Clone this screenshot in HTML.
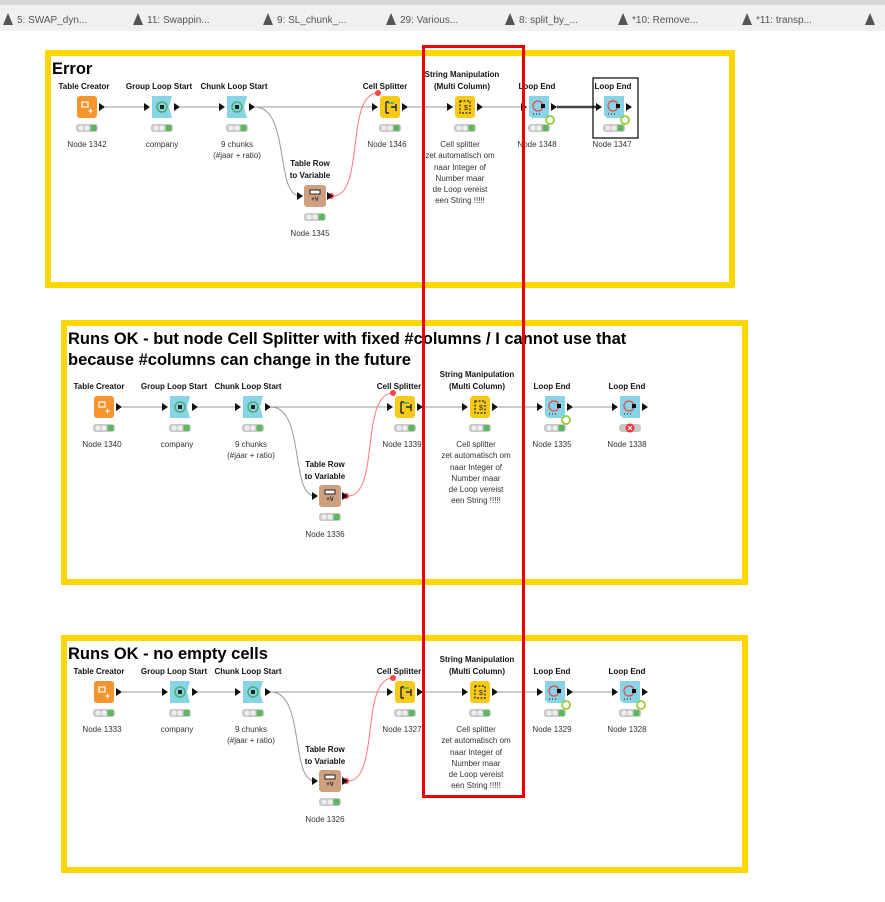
<!DOCTYPE html>
<html><head><meta charset="utf-8"><style>
html,body{margin:0;padding:0;background:#fff;width:885px;height:902px;overflow:hidden;font-family:"Liberation Sans",sans-serif}
.tabs{position:absolute;left:0;top:0;width:885px;height:31px;background:#f0f0f0;border-top:5px solid #d6d6d6;box-sizing:border-box}
.tab{position:absolute;top:8px;font-size:10px;color:#555}
.tab:before{content:"";display:inline-block;width:0;height:0;border-left:5px solid transparent;border-right:5px solid transparent;border-bottom:12px solid #555;margin-right:4px;vertical-align:-2px}
svg{position:absolute;left:0;top:0}
text{font-family:"Liberation Sans",sans-serif}
.n{font-size:8px;font-weight:bold;text-anchor:middle;fill:#111}
.l{font-size:8px;text-anchor:middle;fill:#333}
.t{font-size:16.5px;font-weight:bold;fill:#000}
</style></head><body>
<div class="tabs">
<span class="tab" style="left:3px">5: SWAP_dyn...</span>
<span class="tab" style="left:133px">11: Swappin...</span>
<span class="tab" style="left:263px">9: SL_chunk_...</span>
<span class="tab" style="left:386px">29: Various...</span>
<span class="tab" style="left:505px">8: split_by_...</span>
<span class="tab" style="left:618px">*10: Remove...</span>
<span class="tab" style="left:742px">*11: transp...</span>
<span class="tab" style="left:865px"></span>
</div>
<svg width="885" height="902" viewBox="0 0 885 902">
<defs>
<g id="ports"><polygon points="-18,-4 -12,0 -18,4" fill="#111"/><polygon points="12,-4 18,0 12,4" fill="#111"/></g>
<g id="outp"><polygon points="12,-4 18,0 12,4" fill="#111"/></g>
<g id="lights"><rect x="-11" y="17" width="22" height="8" rx="3" fill="#c8c8c8"/><circle cx="-6" cy="21" r="2.6" fill="#eee"/><circle cx="0" cy="21" r="2.6" fill="#eee"/><rect x="3.5" y="18" width="6" height="6" rx="1" fill="#5cb85c"/></g>
<g id="tc"><rect x="-10" y="-11" width="20" height="22" rx="3" fill="#f7942d"/><rect x="-5" y="-5" width="6" height="5" fill="none" stroke="#fff" stroke-width="1.2"/><text x="1" y="7" font-size="9" fill="#fff" font-weight="bold">+</text><use href="#outp"/><use href="#lights"/></g>
<g id="ls"><path d="M-10,-11 H10 L7,0 L10,11 H-10 Z" fill="#86d4e6"/><circle cx="0" cy="0" r="5" fill="none" stroke="#4cae6a" stroke-width="1.5"/><rect x="-2" y="-2" width="4" height="4" fill="#222"/><use href="#ports"/><use href="#lights"/></g>
<g id="cs"><rect x="-10" y="-11" width="20" height="22" rx="3" fill="#f7ca18"/><path d="M-4,-5 V6 M-4,-5 H-1 M-4,6 H-1 M1,0 H6 M6,-3 V4" stroke="#222" stroke-width="1.4" fill="none"/><path d="M-2,-4 H4" stroke="#3a8" stroke-width="1.5"/><use href="#ports"/><use href="#lights"/></g>
<g id="sm"><rect x="-10" y="-11" width="20" height="22" rx="3" fill="#f7ca18"/><rect x="-5" y="-6" width="10" height="12" fill="none" stroke="#222" stroke-width="1.2" stroke-dasharray="2,1.5"/><text x="-1" y="3" font-size="7" fill="#222">$</text><use href="#ports"/><use href="#lights"/></g>
<g id="le"><path d="M-10,-11 H10 V11 H-7 L-10,8 Z" fill="#86d4e6"/><circle cx="-1" cy="-1" r="5" fill="none" stroke="#e44" stroke-width="1.2"/><rect x="2" y="-3" width="4" height="4" fill="#111"/><path d="M-6,7 h1 M-3,7 h1 M0,7 h1" stroke="#111"/><circle cx="11" cy="13" r="4" fill="none" stroke="#9c3" stroke-width="1.8"/><use href="#ports"/><use href="#lights"/></g>
<g id="trv"><rect x="-11" y="-11" width="22" height="22" rx="3" fill="#cfa07f"/><rect x="-5" y="-6" width="10" height="4" fill="#fff" stroke="#222"/><text x="0" y="5" font-size="6" text-anchor="middle" fill="#222" font-weight="bold">+V</text><use href="#ports"/><use href="#lights"/></g>
</defs>

<rect x="48" y="53" width="684" height="232" fill="none" stroke="#ffd700" stroke-width="6"/>
<rect x="64" y="323" width="681" height="259" fill="none" stroke="#ffd700" stroke-width="6"/>
<rect x="64" y="638" width="681" height="232" fill="none" stroke="#ffd700" stroke-width="6"/>

<!-- Panel 1 -->
<text x="52" y="74" class="t" font-size="17">Error</text>
<g stroke="#999" stroke-width="1" fill="none">
<path d="M105,107 H145 M180,107 H220 M255,107 H372 M408,107 H447 M483,107 H522"/>
<path d="M255,107 C290,107 275,196 300,196"/>
</g>
<path d="M557,107 H597" stroke="#444" stroke-width="2.5"/>
<path d="M333,196 C365,196 345,93 378,93" stroke="#f77" stroke-width="1" fill="none"/>
<circle cx="378" cy="93" r="3" fill="#f44"/><circle cx="331" cy="196" r="3" fill="#f44"/>
<use href="#tc" x="87" y="107"/><use href="#ls" x="162" y="107"/><use href="#ls" x="237" y="107"/>
<use href="#cs" x="390" y="107"/><use href="#sm" x="465" y="107"/><use href="#le" x="539" y="107"/><use href="#le" x="614" y="107"/>
<use href="#trv" x="315" y="196"/>
<rect x="593" y="78" width="45" height="60" fill="none" stroke="#000" stroke-width="1.2"/>
<text class="n" x="84" y="89">Table Creator</text><text class="n" x="159" y="89">Group Loop Start</text><text class="n" x="234" y="89">Chunk Loop Start</text>
<text class="n" x="385" y="89">Cell Splitter</text><text class="n" x="462" y="77">String Manipulation</text><text class="n" x="462" y="89">(Multi Column)</text>
<text class="n" x="537" y="89">Loop End</text><text class="n" x="613" y="89">Loop End</text>
<text class="n" x="310" y="166">Table Row</text><text class="n" x="310" y="178">to Variable</text>
<text class="l" x="87" y="147">Node 1342</text><text class="l" x="162" y="147">company</text><text class="l" x="237" y="147">9 chunks</text><text class="l" x="237" y="158">(#jaar + ratio)</text>
<text class="l" x="387" y="147">Node 1346</text><text class="l" x="537" y="147">Node 1348</text><text class="l" x="612" y="147">Node 1347</text><text class="l" x="310" y="236">Node 1345</text>
<text class="l" x="460" y="147">Cell splitter</text><text class="l" x="460" y="158">zet automatisch om</text><text class="l" x="460" y="170">naar Integer of</text><text class="l" x="460" y="181">Number maar</text><text class="l" x="460" y="192">de Loop vereist</text><text class="l" x="460" y="203">een String !!!!!</text>

<!-- Panel 2 -->
<text x="68" y="344" class="t">Runs OK - but node Cell Splitter with fixed #columns / I cannot use that</text>
<text x="68" y="365" class="t">because #columns can change in the future</text>
<g stroke="#999" stroke-width="1" fill="none">
<path d="M122,407 H162 M198,407 H235 M271,407 H387 M423,407 H462 M498,407 H537 M573,407 H612"/>
<path d="M271,407 C305,407 290,496 315,496"/>
</g>
<path d="M348,496 C380,496 360,393 393,393" stroke="#f77" stroke-width="1" fill="none"/>
<circle cx="393" cy="393" r="3" fill="#f44"/><circle cx="346" cy="496" r="3" fill="#f44"/>
<use href="#tc" x="104" y="407"/><use href="#ls" x="180" y="407"/><use href="#ls" x="253" y="407"/>
<use href="#cs" x="405" y="407"/><use href="#sm" x="480" y="407"/><use href="#le" x="555" y="407"/>
<g transform="translate(630,407)"><path d="M-10,-11 H10 V11 H-7 L-10,8 Z" fill="#86d4e6"/><circle cx="-1" cy="-1" r="5" fill="none" stroke="#e44" stroke-width="1.2"/><rect x="2" y="-3" width="4" height="4" fill="#111"/><path d="M-6,7 h1 M-3,7 h1 M0,7 h1" stroke="#111"/><use href="#ports"/><rect x="-11" y="17" width="22" height="8" rx="3" fill="#c8c8c8"/><circle cx="0" cy="21" r="4.5" fill="#e33"/><path d="M-2,19 l4,4 M2,19 l-4,4" stroke="#fff" stroke-width="1.2"/></g>
<use href="#trv" x="330" y="496"/>
<text class="n" x="99" y="389">Table Creator</text><text class="n" x="174" y="389">Group Loop Start</text><text class="n" x="248" y="389">Chunk Loop Start</text>
<text class="n" x="399" y="389">Cell Splitter</text><text class="n" x="477" y="377">String Manipulation</text><text class="n" x="477" y="389">(Multi Column)</text>
<text class="n" x="552" y="389">Loop End</text><text class="n" x="627" y="389">Loop End</text>
<text class="n" x="325" y="467">Table Row</text><text class="n" x="325" y="479">to Variable</text>
<text class="l" x="102" y="447">Node 1340</text><text class="l" x="177" y="447">company</text><text class="l" x="251" y="447">9 chunks</text><text class="l" x="251" y="458">(#jaar + ratio)</text>
<text class="l" x="402" y="447">Node 1339</text><text class="l" x="552" y="447">Node 1335</text><text class="l" x="627" y="447">Node 1338</text><text class="l" x="325" y="537">Node 1336</text>
<text class="l" x="476" y="447">Cell splitter</text><text class="l" x="476" y="458">zet automatisch om</text><text class="l" x="476" y="470">naar Integer of</text><text class="l" x="476" y="481">Number maar</text><text class="l" x="476" y="492">de Loop vereist</text><text class="l" x="476" y="503">een String !!!!!</text>

<!-- Panel 3 -->
<text x="68" y="659" class="t">Runs OK - no empty cells</text>
<g stroke="#999" stroke-width="1" fill="none">
<path d="M122,692 H162 M198,692 H235 M271,692 H387 M423,692 H462 M498,692 H537 M573,692 H612"/>
<path d="M271,692 C305,692 290,781 315,781"/>
</g>
<path d="M348,781 C380,781 360,678 393,678" stroke="#f77" stroke-width="1" fill="none"/>
<circle cx="393" cy="678" r="3" fill="#f44"/><circle cx="346" cy="781" r="3" fill="#f44"/>
<use href="#tc" x="104" y="692"/><use href="#ls" x="180" y="692"/><use href="#ls" x="253" y="692"/>
<use href="#cs" x="405" y="692"/><use href="#sm" x="480" y="692"/><use href="#le" x="555" y="692"/><use href="#le" x="630" y="692"/>
<use href="#trv" x="330" y="781"/>
<text class="n" x="99" y="674">Table Creator</text><text class="n" x="174" y="674">Group Loop Start</text><text class="n" x="248" y="674">Chunk Loop Start</text>
<text class="n" x="399" y="674">Cell Splitter</text><text class="n" x="477" y="662">String Manipulation</text><text class="n" x="477" y="674">(Multi Column)</text>
<text class="n" x="552" y="674">Loop End</text><text class="n" x="627" y="674">Loop End</text>
<text class="n" x="325" y="752">Table Row</text><text class="n" x="325" y="764">to Variable</text>
<text class="l" x="102" y="732">Node 1333</text><text class="l" x="177" y="732">company</text><text class="l" x="251" y="732">9 chunks</text><text class="l" x="251" y="743">(#jaar + ratio)</text>
<text class="l" x="402" y="732">Node 1327</text><text class="l" x="552" y="732">Node 1329</text><text class="l" x="627" y="732">Node 1328</text><text class="l" x="325" y="822">Node 1326</text>
<text class="l" x="476" y="732">Cell splitter</text><text class="l" x="476" y="743">zet automatisch om</text><text class="l" x="476" y="755">naar Integer of</text><text class="l" x="476" y="766">Number maar</text><text class="l" x="476" y="777">de Loop vereist</text><text class="l" x="476" y="788">een String !!!!!</text>

<rect x="423.5" y="46.5" width="100" height="750" fill="none" stroke="#e00" stroke-width="3"/>
</svg>
</body></html>
